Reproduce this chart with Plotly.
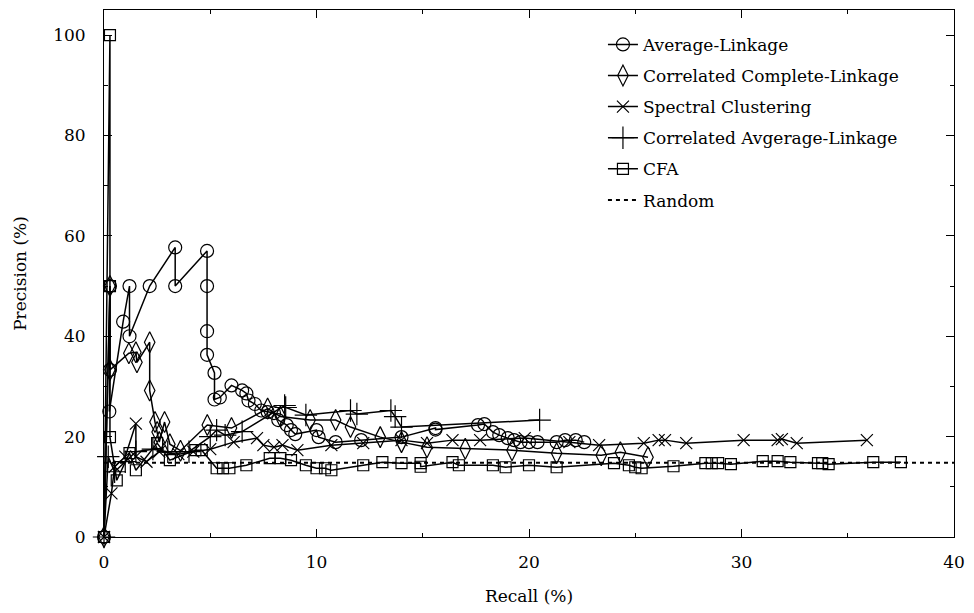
import plotly.graph_objects as go

# Precision/recall curves for several clustering methods
al_recall = [0, 0.28, 0.28, 0.25, 0.9, 1.2, 1.2, 2.15, 3.35, 3.35, 4.85, 4.85, 4.85, 4.85,
             5.2, 5.2, 5.45, 6.0, 6.5, 6.7, 6.8, 7.1, 7.4, 7.7, 8.0, 8.2, 8.6, 8.8, 9.0,
             10.0, 10.1, 10.9, 12.1, 14.0, 15.6, 15.6, 17.6, 17.9, 18.3, 18.6, 19.0, 19.3,
             19.6, 20.0, 20.4, 21.3, 21.7, 22.2, 22.6]
al_precision = [0, 50, 33.3, 25, 42.9, 50, 40, 50, 57.7, 50, 57, 50, 41, 36.3,
                32.7, 27.4, 27.8, 30.2, 29.2, 28.6, 27.2, 26.5, 25.2, 24.9, 24.7, 23.3, 22.3, 21.3, 20.5,
                21.3, 19.9, 18.9, 19.3, 19.9, 21.7, 21.4, 22.3, 22.5, 20.9, 20.3, 19.7, 19.3,
                18.9, 18.9, 18.9, 18.9, 19.3, 19.3, 18.9]

ccl_recall = [0, 0.28, 0.28, 1.17, 1.5, 1.55, 2.15, 2.15, 2.4, 2.5, 2.6, 2.85, 3.1, 3.6,
              4.86, 6.0, 7.7, 8.3, 9.7, 10.9, 11.6, 13.0, 14.0, 15.2, 17.0, 19.2, 21.3,
              23.4, 24.3, 25.6]
ccl_precision = [0, 50, 33.3, 36.6, 36.8, 34.8, 38.8, 29.2, 22.9, 20.9, 18.9, 22.9, 18.5, 17.2,
                 22.3, 21.7, 25.6, 24.0, 23.3, 23.3, 21.9, 19.9, 18.9, 17.9, 17.6, 17.3, 16.7,
                 16.3, 16.9, 15.9]

sc_recall = [0, 0.35, 0.5, 1.0, 1.5, 1.5, 2.0, 2.6, 3.5, 4.2, 5.0, 6.1, 7.2, 7.5, 8.0,
             8.4, 9.1, 10.7, 12.2, 14.0, 15.2, 16.4, 17.7, 19.8, 21.9, 23.3, 25.4, 26.1,
             26.4, 27.4, 30.1, 31.7, 31.9, 32.6, 35.9]
sc_precision = [0, 8.7, 14.0, 16.0, 22.6, 16.0, 15.0, 17.0, 16.5, 17.0, 17.5, 18.9, 19.7, 18.3, 17.9,
                18.3, 17.3, 18.3, 18.7, 19.3, 18.7, 19.3, 19.3, 19.7, 18.9, 18.3, 18.7, 19.3,
                19.3, 18.7, 19.3, 19.3, 19.5, 18.7, 19.3]

cal_recall = [0, 0.2, 0.5, 1.0, 1.5, 2.3, 3.0, 4.0, 5.0, 5.3, 5.7, 6.5, 8.5, 8.55, 9.5,
              11.6, 11.9, 13.5, 13.7, 14.0, 20.5]
cal_precision = [0, 16.0, 13.0, 15.0, 17.0, 17.5, 17.0, 17.0, 20.0, 21.3, 20.3, 21.0, 26.2, 25.8, 24.3,
                 25.2, 24.5, 25.2, 24.0, 21.9, 23.3]

cfa_recall = [0, 0.28, 0.28, 0.28, 0.6, 1.2, 1.5, 2.5, 3.1, 4.3, 4.6, 5.3, 5.6, 5.9, 6.7,
              7.8, 8.3, 8.8, 9.5, 10.0, 10.4, 10.7, 12.2, 13.1, 14.0, 14.9, 14.9, 16.4, 16.7,
              18.3, 18.9, 20.0, 21.3, 24.0, 24.7, 25.0, 25.3, 26.8, 28.3, 28.6, 28.9, 29.5,
              31.0, 31.7, 32.3, 33.6, 33.8, 34.1, 36.2, 37.5]
cfa_precision = [0, 100, 50, 19.9, 11.3, 16.7, 13.3, 18.7, 15.3, 17.3, 17.3, 13.7, 13.7, 13.7, 14.3,
                 15.7, 15.7, 15.3, 14.3, 13.7, 13.7, 13.3, 14.3, 14.9, 14.7, 14.7, 14.0, 14.9, 14.3,
                 14.3, 13.9, 14.3, 13.9, 14.7, 14.3, 13.9, 13.7, 14.1, 14.7, 14.7, 14.7, 14.5,
                 15.1, 15.1, 14.9, 14.7, 14.7, 14.5, 14.9, 14.9]

random_recall = [0, 40]
random_precision = [14.8, 14.8]

series = [
    ("Average-Linkage", al_recall, al_precision, "circle-open", 13),
    ("Correlated Complete-Linkage", ccl_recall, ccl_precision, "diamond-tall-open", 15),
    ("Spectral Clustering", sc_recall, sc_precision, "x-thin-open", 12),
    ("Correlated Avgerage-Linkage", cal_recall, cal_precision, "cross-thin-open", 16),
    ("CFA", cfa_recall, cfa_precision, "square-open", 11),
]

FONT = "DejaVu Serif"

fig = go.Figure()
for i, (name, xs, ys, sym, size) in enumerate(series):
    fig.add_trace(go.Scatter(
        x=xs, y=ys, name=name, mode="lines+markers",
        legendgroup=f"g{i}",
        line=dict(color="black", width=1.5),
        marker=dict(symbol=sym, size=size, color="black",
                    line=dict(color="black", width=1.2)),
        cliponaxis=False,
    ))

fig.add_trace(go.Scatter(
    x=random_recall, y=random_precision, name="Random", mode="lines",
    legendgroup="g5",
    line=dict(color="black", width=2, dash="4px,4px"),
))

axis_common = dict(
    showline=True, linecolor="black", linewidth=1, mirror="ticks",
    ticks="inside", ticklen=8, tickcolor="black", tickwidth=1,
    showgrid=False, zeroline=False,
    tickfont=dict(family=FONT, size=17, color="black"),
)

fig.update_layout(
    width=974, height=613,
    margin=dict(l=104, r=16, t=9, b=76),
    paper_bgcolor="white", plot_bgcolor="white",
    font=dict(family=FONT, size=17, color="black"),
    xaxis=dict(range=[0, 40], dtick=10, ticklabelstandoff=10,
               minor=dict(dtick=5, ticks="inside", ticklen=4, tickcolor="black"),
               title=dict(text="Recall (%)", font=dict(family=FONT, size=17), standoff=18),
               **axis_common),
    yaxis=dict(range=[0, 105], tickvals=[0, 20, 40, 60, 80, 100], ticklabelstandoff=14,
               minor=dict(dtick=10, ticks="inside", ticklen=4, tickcolor="black"),
               title=dict(text="Precision (%)", font=dict(family=FONT, size=17), standoff=22),
               **axis_common),
    legend=dict(x=0.587, y=0.968, xanchor="left", yanchor="top",
                bgcolor="rgba(0,0,0,0)", borderwidth=0,
                font=dict(family=FONT, size=17, color="black"),
                tracegroupgap=6, itemwidth=30),
    showlegend=True,
)

fig.write_html("out.html")
